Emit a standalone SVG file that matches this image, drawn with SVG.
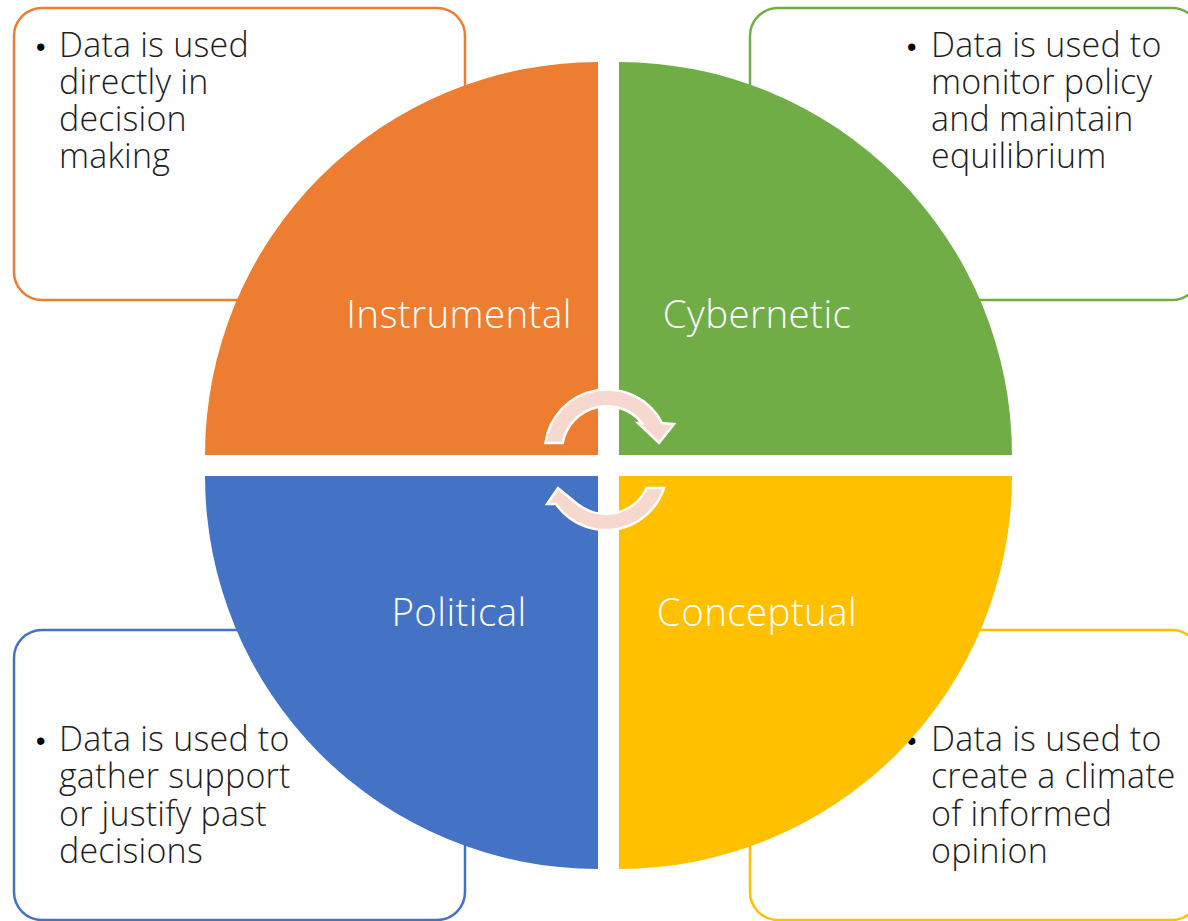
<svg xmlns="http://www.w3.org/2000/svg" width="1188" height="921" viewBox="0 0 1188 921">
<style>
.box{fill:#fff;stroke-width:2.5}
.bt{font-family:"Open Sans","Liberation Sans",sans-serif;font-weight:300;font-size:34px;letter-spacing:0.2px;fill:#1e1e1e}
.bul{font-family:"Liberation Sans",sans-serif;font-size:27px;fill:#000}
.lbl{font-family:"Open Sans","Liberation Sans",sans-serif;font-weight:300;font-size:38.5px;letter-spacing:0.4px;fill:#fff;text-anchor:middle}
.arw{fill:#F7D8CE;stroke:#fff;stroke-width:2.5;stroke-linejoin:miter}
</style>
<rect width="1188" height="921" fill="#fff"/>
<g id="box-instrumental">
<rect class="box" x="14" y="8" width="451" height="292" rx="28" stroke="#ED7D31"/>
<text class="bul" x="36" y="56">•</text>
<text class="bt"><tspan x="59" y="57">Data is used</tspan><tspan x="59" y="94">directly in</tspan><tspan x="59" y="131">decision</tspan><tspan x="59" y="168">making</tspan></text>
</g>
<g id="box-cybernetic">
<rect class="box" x="750" y="8" width="450" height="292" rx="28" stroke="#70AD47"/>
<text class="bul" x="907" y="56">•</text>
<text class="bt"><tspan x="931" y="57">Data is used to</tspan><tspan x="931" y="94">monitor policy</tspan><tspan x="931" y="131">and maintain</tspan><tspan x="931" y="168">equilibrium</tspan></text>
</g>
<g id="box-political">
<rect class="box" x="14" y="630" width="451" height="290" rx="28" stroke="#4472C4"/>
<text class="bul" x="36" y="750">•</text>
<text class="bt"><tspan x="59" y="751">Data is used to</tspan><tspan x="59" y="788">gather support</tspan><tspan x="59" y="826">or justify past</tspan><tspan x="59" y="863">decisions</tspan></text>
</g>
<g id="box-conceptual">
<rect class="box" x="750" y="630" width="450" height="290" rx="28" stroke="#FFC000"/>
<text class="bul" x="907" y="750">•</text>
<text class="bt"><tspan x="931" y="751">Data is used to</tspan><tspan x="931" y="788">create a climate</tspan><tspan x="931" y="826">of informed</tspan><tspan x="931" y="863">opinion</tspan></text>
</g>
<g id="q-instrumental">
<path d="M598,455 L205,455 A393,393 0 0 1 598,62 Z" fill="#ED7D31"/>
<text class="lbl" x="459" y="328">Instrumental</text>
</g>
<g id="q-cybernetic">
<path d="M619,455 L619,62 A393,393 0 0 1 1012,455 Z" fill="#70AD47"/>
<text class="lbl" x="757" y="328">Cybernetic</text>
</g>
<g id="q-political">
<path d="M598,476 L598,869 A393,393 0 0 1 205,476 Z" fill="#4472C4"/>
<text class="lbl" x="459" y="626">Political</text>
</g>
<g id="q-conceptual">
<path d="M619,476 L1012,476 A393,393 0 0 1 619,869 Z" fill="#FFC000"/>
<text class="lbl" x="757" y="626">Conceptual</text>
</g>
<g id="connectors">
<path class="arw" d="M545.5,443 A62,62 0 0 1 662,423 L674,424 L659,443 L638,423 L642,423 A45,45 0 0 0 562.7,443 Z"/>
<path class="arw" d="M664,488 A61,61 0 0 1 556,504 L547,504 L558,488 L581,507 L579,505 A45,45 0 0 0 646.8,488 Z"/>
</g>
</svg>
